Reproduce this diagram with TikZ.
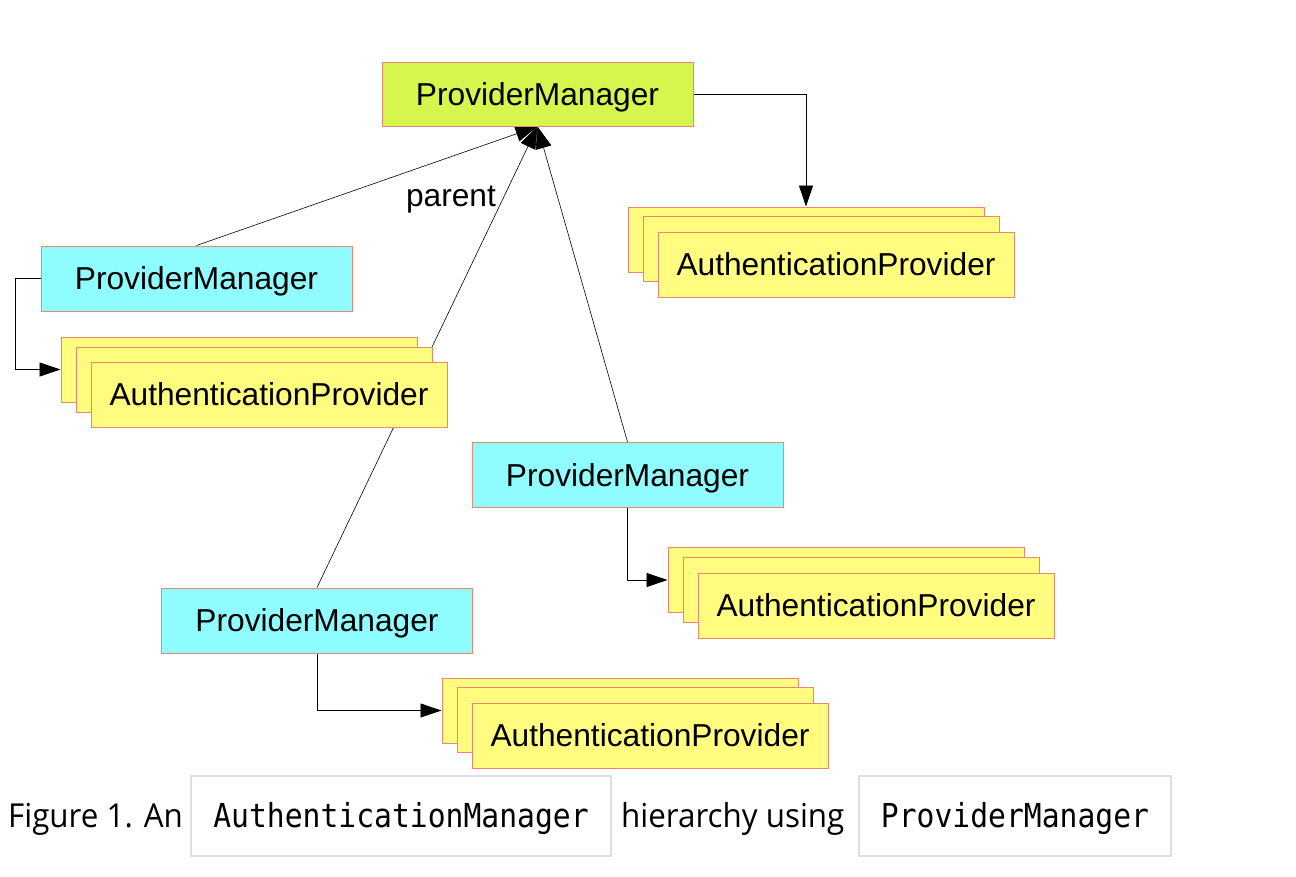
\documentclass[tikz,border=0pt]{standalone}
\usepackage{fontspec}
\setmainfont{Liberation Sans}
\newfontfamily\capfont[FakeStretch=0.95]{Open Sans}
\newfontfamily\capmono[FakeStretch=0.9]{DejaVu Sans Mono}
\usetikzlibrary{arrows.meta}
\pgfdeclarelayer{background}
\pgfsetlayers{background,main}
\definecolor{pmgreen}{HTML}{D6F64D}
\definecolor{pmcyan}{HTML}{8FFCFF}
\definecolor{apyellow}{HTML}{FFFC80}
\definecolor{boxedge}{HTML}{E9876F}
\definecolor{capedge}{HTML}{DEDEE3}
\begin{document}
\begin{tikzpicture}[x=1pt,y=-1pt,
  boxbase/.style={draw=boxedge,line width=1pt,inner sep=0pt,text height=22.7pt,text depth=0pt,
    font=\fontsize{31.7}{38}\selectfont},
  rootbox/.style={boxbase,fill=pmgreen,minimum width=311pt,minimum height=64pt},
  pmbox/.style={boxbase,fill=pmcyan,minimum width=311pt,minimum height=65pt},
  apbox/.style={boxbase,fill=apyellow,minimum width=356pt,minimum height=65pt},
  conn/.style={draw=black,line width=0.9pt,-{Triangle[length=21pt,width=14pt]}},
  plain/.style={draw=black,line width=0.6pt,-{Triangle[length=22pt,width=16pt]}},
  capbox/.style={draw=capedge,line width=1.5pt,minimum width=420pt,minimum height=80pt,inner sep=0pt},
  captext/.style={inner sep=0pt,anchor=base west,font=\capfont\fontsize{33}{40}\selectfont},
  capcode/.style={inner sep=0pt,anchor=base,font=\capmono\fontsize{33}{40}\selectfont}]
\useasboundingbox (0,0) rectangle (1296,876);

% root
\node[rootbox] (pm0) at (537.5,94) {ProviderManager};

% top-right stack
\node[apbox] (ap0a) at (806,239.5) {};
\node[apbox] (ap0b) at (821,248.5) {};
\node[apbox] (ap0c) at (836,264.5) {AuthenticationProvider};

% left manager and stack
\node[pmbox] (pm1) at (196.5,278.5) {ProviderManager};
\node[apbox] (ap1a) at (239,369.5) {};
\node[apbox] (ap1b) at (254,380) {};
\node[apbox] (ap1c) at (269,394.5) {AuthenticationProvider};

% middle manager and stack
\node[pmbox] (pm2) at (627.5,475) {ProviderManager};
\node[apbox] (ap2a) at (846,580) {};
\node[apbox] (ap2b) at (861,590) {};
\node[apbox] (ap2c) at (876,605.5) {AuthenticationProvider};

% bottom manager and stack
\node[pmbox] (pm3) at (317,620.5) {ProviderManager};
\node[apbox] (ap3a) at (620,710.5) {};
\node[apbox] (ap3b) at (635,720) {};
\node[apbox] (ap3c) at (650,735.5) {AuthenticationProvider};

\node[inner sep=0pt,anchor=base,font=\fontsize{31.7}{38}\selectfont] (lbl) at (451,206) {parent};

\begin{pgfonlayer}{background}
  \draw[plain] (pm1.north) -- (pm0.south);
  \draw[plain] (pm3.north) -- (pm0.south);
  \draw[plain] (pm2.north) -- (pm0.south);
  \draw[conn] (pm0.east) -| (ap0a.north);
  \draw[conn] (pm1.west) -- ++(-25,0) |- (ap1a.west);
  \draw[conn] (pm2.south) |- (ap2a.west);
  \draw[conn] (pm3.south) |- (ap3a.west);
\end{pgfonlayer}

% caption
\node[captext] (c1) at (8,827) {Figure 1. An};
\node[capbox] (c2) at (401,816) {};
\node[capcode] (c2t) at (401,827) {AuthenticationManager};
\node[captext] (c3) at (621,827) {hierarchy using};
\node[capbox,minimum width=312pt] (c4) at (1015,816) {};
\node[capcode] (c4t) at (1015,827) {ProviderManager};
\end{tikzpicture}
\end{document}
